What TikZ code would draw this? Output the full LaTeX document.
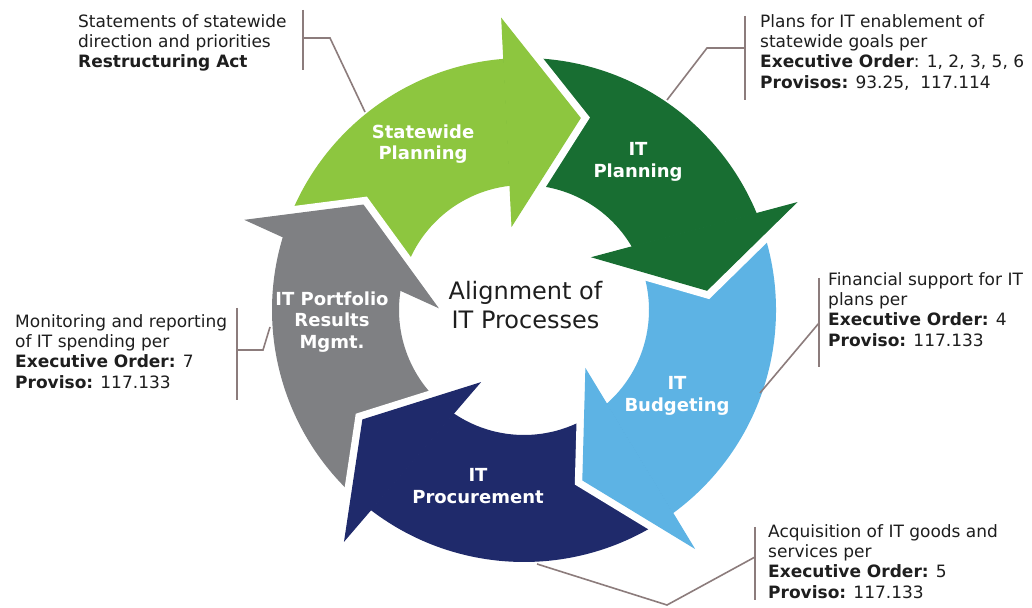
\documentclass[tikz,border=0pt]{standalone}
\usepackage{fontspec}
\setmainfont{DejaVu Sans}
\usetikzlibrary{calc}
\definecolor{lgreen}{RGB}{141,198,63}
\definecolor{dgreen}{RGB}{24,110,50}
\definecolor{lblue}{RGB}{93,179,228}
\definecolor{navyc}{RGB}{31,42,107}
\definecolor{agray}{RGB}{127,128,131}
\definecolor{leader}{RGB}{140,124,124}
\definecolor{txt}{RGB}{30,30,30}
\def\ro{252}
\def\ri{125}
% body: colour, prev outer angle, prev inner angle, own outer angle, own inner angle
\newcommand\mybody[5]{%
  \fill[#1] ($(C)+(#2:\ro)$) arc[start angle=#2, end angle=#4, radius=252pt]
    -- ($(C)+(#5:\ri)$) arc[start angle=#5, end angle=#3, radius=125pt] -- cycle;}
% head: colour, outer shoulder angle, inner shoulder angle, tip angle, tip radius
\newcommand\myhead[5]{%
  \coordinate (So) at ($(C)+(#2:\ro)$);
  \coordinate (Si) at ($(C)+(#3:\ri)$);
  \coordinate (Fo) at ($(Si)!1.31!(So)$);
  \coordinate (Fi) at ($(So)!1.31!(Si)$);
  \coordinate (Tp) at ($(C)+(#4:#5)$);
  \draw[white, line width=16pt, line join=miter, miter limit=10] (Fo) -- (Tp) -- (Fi);
  \filldraw[fill=#1, draw=#1, line width=1.2pt, line join=miter] (Fo) -- (Tp) -- (Fi) -- cycle;}
\tikzset{
  lbl/.style={text=white, font=\bfseries\fontsize{18}{21.5}\selectfont, align=center, inner sep=0pt},
  note/.style={text=txt, font=\fontsize{17}{20.4}\selectfont, align=left, anchor=north west, inner sep=0pt},
  ldr/.style={draw=leader, line width=1.6pt},
}
\begin{document}
\begin{tikzpicture}[x=1pt,y=1pt]
\useasboundingbox[fill=white] (0,0) rectangle (1032,607);
\coordinate (C) at (524,297);
% bodies
\mybody{lgreen}{163.1}{170.9}{94.6}{96.4}
\mybody{dgreen}{94.6}{96.4}{22.5}{30.3}
\mybody{lblue}{22.5}{30.3}{-53.8}{-48.7}
\mybody{navyc}{-53.8}{-48.7}{-127.5}{-124.3}
\mybody{agray}{232.5}{235.7}{163.1}{170.9}
% heads
\myhead{lgreen}{94.6}{96.4}{73.7}{200}
\myhead{dgreen}{22.5}{30.3}{6.2}{184}
\myhead{lblue}{-53.8}{-48.7}{-70.9}{180}
\myhead{navyc}{-127.5}{-124.3}{-145.7}{195}
\myhead{agray}{163.1}{170.9}{146.9}{192}
% arrow labels
\node[lbl] (sp) at (423,463) {Statewide\\Planning};
\node[lbl] (itp) at (638,445) {IT\\Planning};
\node[lbl] (itb) at (677,211) {IT\\Budgeting};
\node[lbl] (itpr) at (478,121) {IT\\Procurement};
\node[lbl] (itpf) at (332,285) {IT Portfolio\\Results\\Mgmt.};
\node[text=txt, font=\fontsize{24}{28.5}\selectfont, align=center, inner sep=0pt] (ctr) at (525.5,302) {Alignment of\\IT Processes};
% notes
\node[note] (ntl) at (78,593) {Statements of statewide\\direction and priorities\\\textbf{Restructuring Act}};
\node[note] (ntr) at (760,593) {Plans for IT enablement of\\statewide goals per\\\textbf{Executive Order}: 1, 2, 3, 5, 6\\\textbf{Provisos:} 93.25,\ \ 117.114};
\node[note] (nr) at (828,335) {Financial support for IT\\plans per\\\textbf{Executive Order:} 4\\\textbf{Proviso:} 117.133};
\node[note] (nl) at (15,293) {Monitoring and reporting\\of IT spending per\\\textbf{Executive Order:} 7\\\textbf{Proviso:} 117.133};
\node[note] (nbr) at (768,83) {Acquisition of IT goods and\\services per\\\textbf{Executive Order:} 5\\\textbf{Proviso:} 117.133};
% leaders
\coordinate (tlA) at (303,597); \coordinate (tlB) at (303,537);
\coordinate (tlM) at (303,569); \coordinate (tlK) at (330,569); \coordinate (tlE) at (365,495);
\draw[ldr] (tlA) -- (tlB); \draw[ldr] (tlM) -- (tlK) -- (tlE);
\coordinate (trA) at (745,591); \coordinate (trB) at (745,507);
\coordinate (trM) at (745,559); \coordinate (trK) at (707,559); \coordinate (trE) at (667,507);
\draw[ldr] (trA) -- (trB); \draw[ldr] (trM) -- (trK) -- (trE);
\coordinate (rA) at (819,329); \coordinate (rB) at (819,240);
\coordinate (rM) at (819,284); \coordinate (rE) at (760,214);
\draw[ldr] (rA) -- (rB); \draw[ldr] (rM) -- (rE);
\coordinate (lA) at (237,299); \coordinate (lB) at (237,207);
\coordinate (lM) at (237,257); \coordinate (lK) at (263,257); \coordinate (lE) at (270,280);
\draw[ldr] (lA) -- (lB); \draw[ldr] (lM) -- (lK) -- (lE);
\coordinate (brA) at (755,80); \coordinate (brB) at (755,7);
\coordinate (brM) at (755,50); \coordinate (brK) at (667,2); \coordinate (brE) at (537,43);
\draw[ldr] (brA) -- (brB); \draw[ldr] (brM) -- (brK) -- (brE);
\end{tikzpicture}
\end{document}
